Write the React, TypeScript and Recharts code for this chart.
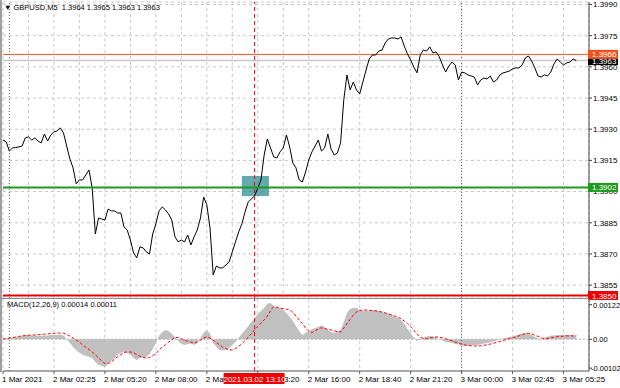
import React from 'react';
import {
  ComposedChart,
  Line,
  Area,
  XAxis,
  YAxis,
  CartesianGrid,
  ReferenceLine,
  ReferenceArea,
} from 'recharts';

const FONT = '"Liberation Sans", Arial, sans-serif';

// Close prices, one point per 10 minutes (2 x M5 bars)
const closePrices = [
  1.39248, 1.39239, 1.39195, 1.3921, 1.39212, 1.39215, 1.39219, 1.39258, 1.39263, 1.39248,
  1.39258, 1.39243, 1.39234, 1.39277, 1.39243, 1.39272, 1.39287, 1.39292, 1.39306, 1.39282,
  1.39219, 1.39157, 1.39114, 1.39037, 1.39056, 1.39056, 1.3908, 1.39104, 1.39017, 1.38796,
  1.38873, 1.38868, 1.38863, 1.38916, 1.38907, 1.38907, 1.38897, 1.38897, 1.3883, 1.38815,
  1.38767, 1.38705, 1.38681, 1.38734, 1.38729, 1.3871, 1.387, 1.38796, 1.38844, 1.38907,
  1.38926, 1.38912, 1.38892, 1.38863, 1.38782, 1.38758, 1.38767, 1.38758, 1.38791, 1.38743,
  1.38782, 1.38815, 1.38873, 1.38974, 1.38936, 1.38825, 1.38599, 1.38642, 1.38633, 1.38633,
  1.38647, 1.38661, 1.3871, 1.38758, 1.38806, 1.38844, 1.38902, 1.3895, 1.38965, 1.38979,
  1.39017, 1.39056, 1.39176, 1.39253, 1.3921, 1.39167, 1.39162, 1.39191, 1.3921, 1.39272,
  1.39215, 1.39138, 1.39114, 1.39056, 1.39046, 1.39094, 1.39152, 1.39191, 1.39219, 1.39248,
  1.39195, 1.3921, 1.39277, 1.39205, 1.39176, 1.39186, 1.39234, 1.39441, 1.39561, 1.39489,
  1.39527, 1.39489, 1.3947, 1.39527, 1.39585, 1.39638, 1.39657, 1.39657, 1.39676, 1.39681,
  1.39715, 1.39734, 1.39739, 1.39739, 1.39734, 1.39744, 1.397, 1.39662, 1.39633, 1.39599,
  1.39571, 1.39657, 1.39681, 1.39676, 1.39696, 1.39667, 1.39672, 1.39648, 1.39609, 1.39575,
  1.39604, 1.39623, 1.39609, 1.39537, 1.39575, 1.39571, 1.39561, 1.39556, 1.39551, 1.39513,
  1.39537, 1.39546, 1.39542, 1.39556, 1.39527, 1.39537, 1.39561, 1.39571, 1.39575, 1.3958,
  1.3959, 1.39595, 1.39595, 1.39609, 1.39643, 1.39652, 1.39628, 1.39595, 1.39556, 1.39551,
  1.39561, 1.39556, 1.39575, 1.39614, 1.39638, 1.39623, 1.39609, 1.39619, 1.39623, 1.39638,
  1.3963,
];

const macdValues = [
  0.00001, 0.00003, 0.00005, 0.00005, 0.00008, 0.00008, 0.00012, 0.00015, 0.00015, 0.00013,
  0.00012, 0.00012, 0.00012, 0.00013, 0.00013, 0.00015, 0.00015, 0.00015, 0.00017, 0.00013,
  0.00001, -0.00013, -0.00027, -0.00038, -0.00048, -0.00055, -0.00059, -0.00062, -0.00066, -0.0008,
  -0.00091, -0.00094, -0.00098, -0.00087, -0.00077, -0.00066, -0.00055, -0.00048, -0.00045, -0.00048,
  -0.00055, -0.00066, -0.00073, -0.00066, -0.00064, -0.00062, -0.00052, -0.00034, -0.00013, 0.00012,
  0.00026, 0.00033, 0.00029, 0.00019, 0.00008, -0.00006, -0.00017, -0.0002, -0.00017, -0.00015,
  -0.0002, -0.00013, 0.00005, 0.00022, 0.00033, 0.00019, -0.00013, -0.00027, -0.00038, -0.0004,
  -0.00038, -0.00031, -0.0002, -0.0001, 0.00005, 0.00019, 0.00033, 0.00047, 0.00061, 0.00075,
  0.00089, 0.001, 0.0011, 0.00125, 0.00128, 0.00117, 0.0011, 0.0011, 0.00103, 0.00093,
  0.00079, 0.00065, 0.00047, 0.00029, 0.00015, 0.00022, 0.00029, 0.00035, 0.0004, 0.00043,
  0.00049, 0.00043, 0.00033, 0.00026, 0.00022, 0.00029, 0.00033, 0.00061, 0.00093, 0.00107,
  0.0011, 0.0011, 0.00103, 0.001, 0.001, 0.001, 0.00102, 0.00103, 0.001, 0.00096,
  0.00093, 0.00089, 0.00086, 0.00079, 0.00075, 0.00068, 0.00054, 0.00036, 0.00022, 0.00005,
  -0.00006, -0.00002, 0.00006, 0.0001, 0.00012, 0.0001, 0.00005, -0.00001, -0.00004, -0.0001,
  -0.00011, -0.00013, -0.00017, -0.00018, -0.00022, -0.00024, -0.00024, -0.00022, -0.0002, -0.0002,
  -0.00018, -0.00015, -0.00013, -0.00011, -0.00008, -0.00004, -0.00001, 0.00003, 0.00005, 0.00008,
  0.0001, 0.00013, 0.00017, 0.00019, 0.00022, 0.0002, 0.00015, 0.00008, 0.00003, 0.00001,
  0.00006, 0.0001, 0.00012, 0.00013, 0.00015, 0.00015, 0.00015, 0.00015, 0.00015, 0.00013,
  0.00014,
];

const signalValues = [
  0.00001, 0.00002, 0.00004, 0.00006, 0.00008, 0.0001, 0.00012, 0.00013, 0.00014, 0.00015,
  0.00015, 0.00016, 0.00017, 0.00018, 0.00019, 0.0002, 0.00021, 0.00022, 0.00022, 0.00021,
  0.00017, 0.00011, 0.00004, -0.00003, -0.0001, -0.0002, -0.00028, -0.00036, -0.00045, -0.00055,
  -0.00066, -0.00076, -0.00085, -0.00085, -0.0008, -0.0007, -0.00062, -0.00054, -0.00047, -0.00045,
  -0.00045, -0.00048, -0.00054, -0.0006, -0.00064, -0.00066, -0.00064, -0.00058, -0.0005, -0.00038,
  -0.00028, -0.0002, -0.0001, -0.00002, 0.00006, 0.00006, 0.00002, -0.00003, -0.00007, -0.0001,
  -0.00013, -0.0001, -0.00004, 0.00004, 0.00008, 0.00004, -0.00004, -0.00012, -0.0002, -0.00028,
  -0.00033, -0.00037, -0.00038, -0.00033, -0.00025, -0.00016, -0.00005, 0.00008, 0.0002, 0.00033,
  0.00045, 0.00057, 0.00068, 0.00082, 0.001, 0.00114, 0.00113, 0.0011, 0.00108, 0.00106,
  0.00103, 0.00095, 0.00082, 0.00068, 0.00055, 0.0004, 0.00028, 0.00024, 0.0003, 0.00036,
  0.0004, 0.00038, 0.00035, 0.00033, 0.0003, 0.00027, 0.00026, 0.0004, 0.00055, 0.0007,
  0.00085, 0.00096, 0.00101, 0.00103, 0.00103, 0.00102, 0.00101, 0.001, 0.00098, 0.00096,
  0.00093, 0.0009, 0.00086, 0.00082, 0.00078, 0.00072, 0.00064, 0.00056, 0.00044, 0.00032,
  0.00018, 0.00008, 0.00003, 0.00002, 0.00004, 0.00007, 0.00008, 0.00007, 0.00005, 0.00002,
  -0.00002, -0.00006, -0.0001, -0.00014, -0.00018, -0.0002, -0.00022, -0.00023, -0.00024, -0.00024,
  -0.00023, -0.00021, -0.0002, -0.00017, -0.00014, -0.00011, -0.00008, -0.00004, -0.00001, 0.00002,
  0.00005, 0.00008, 0.00012, 0.00016, 0.0002, 0.00021, 0.00019, 0.00014, 0.0001, 0.00005,
  0.00002, 0.00002, 0.00005, 0.00007, 0.00009, 0.0001, 0.00011, 0.00012, 0.00012, 0.00012,
  0.00012,
];

const priceTicks = [1.3855, 1.387, 1.3885, 1.39, 1.3915, 1.393, 1.3945, 1.396, 1.3975, 1.399];
const macdTicks = [-0.00102, 0, 0.00122];
const gridSteps = [0, 8, 16, 24, 32, 40, 48, 56, 64, 72, 80, 88, 96, 104, 112, 120, 128, 136, 144, 152, 160, 168, 176];
const timeTicks = [0, 16, 32, 48, 64, 80, 96, 112, 128, 144, 160, 176];
const timeLabels = [
  '1 Mar 2021', '2 Mar 02:25', '2 Mar 05:20', '2 Mar 08:00', '2 Mar 10:40', '2 Mar 13:20',
  '2 Mar 16:00', '2 Mar 18:40', '2 Mar 21:20', '3 Mar 00:00', '3 Mar 02:45', '3 Mar 05:25',
];
const daySeparators = [2, 144];
const cursorStep = 79;
const cursorLabel = '2021.03.02 13:10';
const resistanceLevel = 1.3966;
const bidLevel = 1.3963;
const entryLevel = 1.3902;
const supportLevel = 1.385;
const zoneSteps = [75, 83.5];
const zonePrices = [1.38979, 1.39075];
const headerText = 'GBPUSD,M5  1.3964 1.3965 1.3963 1.3963';
const macdText = 'MACD(12,26,9) 0.00014 0.00011';

const PRICE_DOMAIN = [1.38488, 1.39912];
const MACD_DOMAIN = [-0.00112, 0.00142];
const STEP_DOMAIN = [0, 184];

const data = closePrices.map((c, i) => ({
  i,
  close: c,
  macd: macdValues[i],
  signal: signalValues[i],
}));

const PriceTag = (props: any) => {
  const { viewBox, text, bg } = props;
  if (!viewBox) return null;
  const rx = viewBox.x + viewBox.width - 1;
  const y = viewBox.y;
  return (
    <g>
      <rect x={rx} y={y - 4.5} width={30} height={9} fill={bg} />
      <text x={rx + 4} y={y + 3} fontSize={8} fill="#fff" fontFamily={FONT}>
        {text}
      </text>
    </g>
  );
};

const TimeTag = (props: any) => {
  const { viewBox } = props;
  if (!viewBox) return null;
  const cx = viewBox.x;
  const by = viewBox.y + viewBox.height;
  return (
    <g>
      <rect x={cx - 31} y={by + 2} width={61} height={11} fill="#f00000" />
      <text x={cx} y={by + 10.5} fontSize={8} fill="#fff" textAnchor="middle" fontFamily={FONT}>
        {cursorLabel}
      </text>
    </g>
  );
};

const TimeTick = (props: any) => {
  const { x, y, payload } = props;
  const idx = timeTicks.indexOf(payload.value);
  return (
    <text x={x - 1} y={y + 8} fontSize={8} fill="#000" fontFamily={FONT}>
      {idx >= 0 ? timeLabels[idx] : ''}
    </text>
  );
};

const MacdTick = (props: any) => {
  const { x, y, payload } = props;
  const v = payload.value as number;
  const label = v === 0 ? '0.00' : v.toFixed(5);
  return (
    <text x={v < 0 ? x - 2 : x} y={y + 3} fontSize={7.5} fill="#000" fontFamily={FONT}>
      {label}
    </text>
  );
};

const axisTick = { fontSize: 8, fill: '#000', fontFamily: FONT };

export default function App() {
  return (
    <div
      style={{
        position: 'absolute',
        left: 0,
        top: 0,
        width: 620,
        height: 388,
        background: '#fff',
        overflow: 'hidden',
        fontFamily: FONT,
      }}
    >
      {/* main price panel */}
      <div style={{ position: 'absolute', left: 0, top: 0 }}>
        <ComposedChart width={620} height={300} data={data} margin={{ top: 2, right: 0, bottom: 2, left: 3 }}>
          <CartesianGrid stroke="#c8c8c8" strokeDasharray="3 3" />
          <XAxis dataKey="i" type="number" domain={STEP_DOMAIN} ticks={gridSteps} hide allowDataOverflow />
          <YAxis
            orientation="right"
            width={31}
            domain={PRICE_DOMAIN}
            ticks={priceTicks}
            allowDataOverflow
            interval={0}
            tickFormatter={(v: number) => v.toFixed(4)}
            tick={axisTick}
            tickSize={3}
            tickMargin={1}
            axisLine={{ stroke: '#444' }}
            tickLine={{ stroke: '#444' }}
          />
          {daySeparators.map((d) => (
            <ReferenceLine key={d} x={d} stroke="#666" strokeDasharray="1 2" />
          ))}
          <ReferenceArea
            x1={zoneSteps[0]}
            x2={zoneSteps[1]}
            y1={zonePrices[0]}
            y2={zonePrices[1]}
            fill="#2f8d93"
            fillOpacity={0.75}
            stroke="none"
          />
          <ReferenceLine y={bidLevel} stroke="#c8c8c8" strokeWidth={1.5} />
          <ReferenceLine y={resistanceLevel} stroke="#f4511e" strokeWidth={1} />
          <ReferenceLine y={supportLevel} stroke="#e80000" strokeWidth={2} />
          <Line
            dataKey="close"
            stroke="#000"
            strokeWidth={1}
            dot={false}
            type="linear"
            isAnimationActive={false}
          />
          <ReferenceLine y={entryLevel} stroke="#1f9a1f" strokeWidth={2} />
          <ReferenceLine x={cursorStep} stroke="#ff0000" strokeDasharray="4 3" />
        </ComposedChart>
      </div>

      {/* price tags drawn above the axis labels */}
      <div style={{ position: 'absolute', left: 0, top: 0 }}>
        <ComposedChart width={620} height={300} data={data} margin={{ top: 2, right: 31, bottom: 2, left: 3 }}>
          <XAxis dataKey="i" type="number" domain={STEP_DOMAIN} hide allowDataOverflow />
          <YAxis domain={PRICE_DOMAIN} hide allowDataOverflow />
          <ReferenceLine
            y={bidLevel}
            stroke="none"
            label={(p: any) => <PriceTag viewBox={p.viewBox} text={bidLevel.toFixed(4)} bg="#000" />}
          />
          <ReferenceLine
            y={resistanceLevel}
            stroke="none"
            label={(p: any) => <PriceTag viewBox={p.viewBox} text={resistanceLevel.toFixed(4)} bg="#f4511e" />}
          />
          <ReferenceLine
            y={entryLevel}
            stroke="none"
            label={(p: any) => <PriceTag viewBox={p.viewBox} text={entryLevel.toFixed(4)} bg="#1f9a1f" />}
          />
          <ReferenceLine
            y={supportLevel}
            stroke="none"
            label={(p: any) => <PriceTag viewBox={p.viewBox} text={supportLevel.toFixed(4)} bg="#f00000" />}
          />
        </ComposedChart>
      </div>

      {/* MACD panel */}
      <div style={{ position: 'absolute', left: 0, top: 297 }}>
        <ComposedChart width={620} height={91} data={data} margin={{ top: 2, right: 0, bottom: 0, left: 3 }}>
          <CartesianGrid stroke="#c8c8c8" strokeDasharray="3 3" horizontal={false} />
          <XAxis
            dataKey="i"
            type="number"
            domain={STEP_DOMAIN}
            ticks={timeTicks}
            interval={0}
            height={17}
            allowDataOverflow
            tick={<TimeTick />}
            tickSize={3}
            tickMargin={0}
            axisLine={{ stroke: '#555' }}
            tickLine={{ stroke: '#555' }}
          />
          <YAxis
            orientation="right"
            width={31}
            domain={MACD_DOMAIN}
            ticks={macdTicks}
            interval={0}
            allowDataOverflow
            tick={<MacdTick />}
            tickSize={3}
            tickMargin={1}
            axisLine={{ stroke: '#444' }}
            tickLine={{ stroke: '#444' }}
          />
          {daySeparators.map((d) => (
            <ReferenceLine key={d} x={d} stroke="#666" strokeDasharray="1 2" />
          ))}
          <ReferenceLine y={0} stroke="#b4b4b4" strokeDasharray="2 2" />
          <Area
            dataKey="macd"
            type="linear"
            fill="#c0c0c0"
            fillOpacity={1}
            stroke="none"
            baseValue={0}
            isAnimationActive={false}
          />
          <Line
            dataKey="signal"
            type="monotone"
            stroke="#ff0000"
            strokeWidth={1}
            strokeDasharray="3 2"
            dot={false}
            isAnimationActive={false}
          />
          <ReferenceLine x={cursorStep} stroke="#ff0000" strokeDasharray="4 3" />
        </ComposedChart>
      </div>

      {/* time tag drawn above the time axis labels */}
      <div style={{ position: 'absolute', left: 0, top: 297 }}>
        <ComposedChart width={620} height={91} data={data} margin={{ top: 2, right: 31, bottom: 17, left: 3 }}>
          <XAxis dataKey="i" type="number" domain={STEP_DOMAIN} hide allowDataOverflow />
          <YAxis domain={MACD_DOMAIN} hide allowDataOverflow />
          <ReferenceLine x={cursorStep} stroke="none" label={(p: any) => <TimeTag viewBox={p.viewBox} />} />
        </ComposedChart>
      </div>

      <div style={{ position: 'absolute', left: 0, top: 0, width: 2, height: 372, background: '#a0a0a0' }} />
      <div style={{ position: 'absolute', left: 0, top: 298, width: 589, height: 1, background: '#8c8c8c' }} />

      <div
        style={{
          position: 'absolute',
          left: 4,
          top: 3,
          fontSize: 7.5,
          lineHeight: '10px',
          color: '#000',
          whiteSpace: 'pre',
        }}
      >
        {'\u25BC ' + headerText}
      </div>
      <div
        style={{
          position: 'absolute',
          left: 7,
          top: 300,
          fontSize: 7.5,
          lineHeight: '10px',
          color: '#000',
          whiteSpace: 'pre',
        }}
      >
        {macdText}
      </div>
    </div>
  );
}
